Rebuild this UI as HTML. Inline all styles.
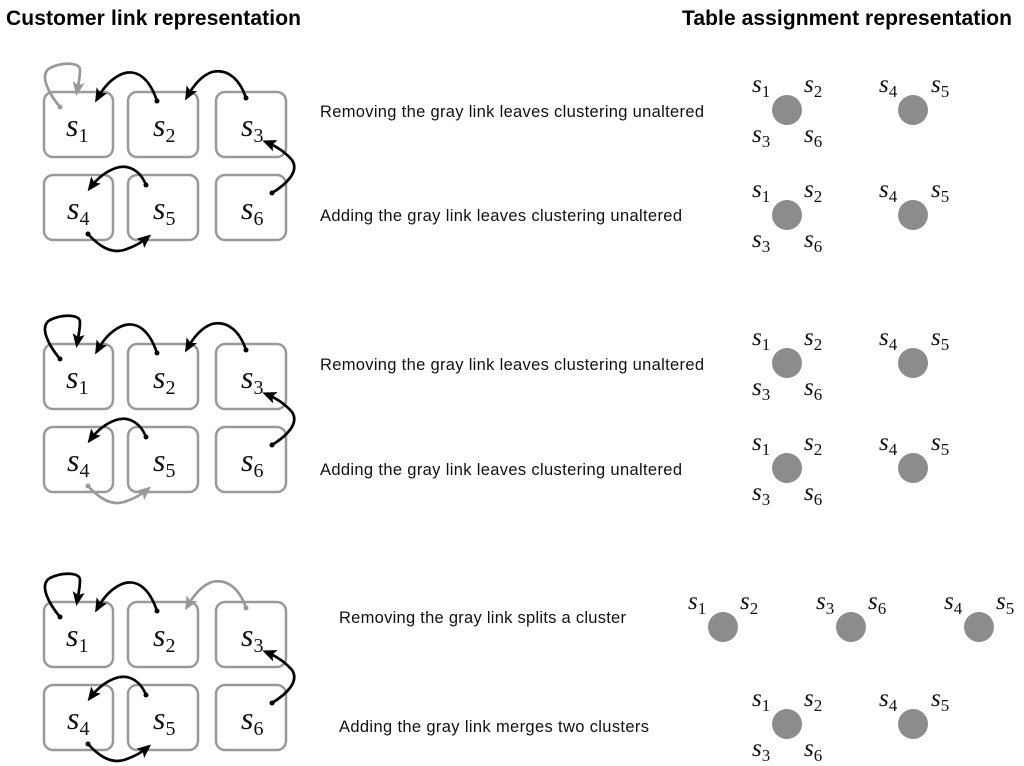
<!DOCTYPE html>
<html><head><meta charset="utf-8"><style>
html,body{margin:0;padding:0;background:#fff;}
svg{display:block;}
.h{font-family:"Liberation Sans",sans-serif;font-weight:bold;font-size:21px;fill:#000;}
.t{font-family:"Liberation Sans",sans-serif;font-size:16.5px;fill:#111;}
.s{font-family:"Liberation Serif",serif;font-style:italic;font-size:32px;fill:#111;}
.sub{font-style:normal;font-size:20px;}
.c{font-family:"Liberation Serif",serif;font-style:italic;font-size:25px;fill:#111;}
.cs{font-style:normal;font-size:17px;}
.box{fill:#fff;stroke:#999;stroke-width:2.5;}
.k{fill:none;stroke:#000;stroke-width:2.7;}
.g{fill:none;stroke:#999;stroke-width:2.7;}
</style></head><body>
<svg width="1024" height="766" viewBox="0 0 1024 766" xmlns="http://www.w3.org/2000/svg">
<defs>
<marker id="ak" markerWidth="14" markerHeight="12" refX="10" refY="6" orient="auto" markerUnits="userSpaceOnUse"><path d="M0,0 L14,6 L0,12 L3,6 z" fill="#000"/></marker>
<marker id="ag" markerWidth="14" markerHeight="12" refX="10" refY="6" orient="auto" markerUnits="userSpaceOnUse"><path d="M0,0 L14,6 L0,12 L3,6 z" fill="#999"/></marker>
<g id="boxes">
<rect class="box" x="44" y="92" width="69" height="65" rx="9"/>
<rect class="box" x="128" y="92" width="70" height="65" rx="9"/>
<rect class="box" x="216" y="92" width="70" height="65" rx="9"/>
<rect class="box" x="44" y="175" width="69" height="65" rx="9"/>
<rect class="box" x="128" y="175" width="70" height="65" rx="9"/>
<rect class="box" x="216" y="175" width="70" height="65" rx="9"/>
<text class="s" x="66" y="136">s<tspan class="sub" dy="6">1</tspan></text>
<text class="s" x="153" y="136">s<tspan class="sub" dy="6">2</tspan></text>
<text class="s" x="241" y="136">s<tspan class="sub" dy="6">3</tspan></text>
<text class="s" x="67" y="219">s<tspan class="sub" dy="6">4</tspan></text>
<text class="s" x="153" y="219">s<tspan class="sub" dy="6">5</tspan></text>
<text class="s" x="241" y="219">s<tspan class="sub" dy="6">6</tspan></text>
</g>
<g id="common">
<path class="k" d="M157,101 C150,80 138,68 122,74 C110,79 102,90 97,99" marker-end="url(#ak)"/><circle cx="157" cy="101" r="2.5"/>
<path class="k" d="M272,193 C285,185 300,172 292,160 C285,152 276,146 266,142" marker-end="url(#ak)"/><circle cx="272" cy="193" r="2.5"/>
<path class="k" d="M146,185 C140,170 128,164 116,168 C104,172 96,180 90,188" marker-end="url(#ak)"/><circle cx="146" cy="185" r="2.5"/>
</g>
<g id="circ">
<circle cx="787" cy="110" r="15" fill="#8c8c8c"/>
<circle cx="913" cy="110" r="15" fill="#8c8c8c"/>
<text class="c" x="752" y="92">s<tspan class="cs" dy="5">1</tspan></text>
<text class="c" x="804" y="92">s<tspan class="cs" dy="5">2</tspan></text>
<text class="c" x="752" y="142">s<tspan class="cs" dy="5">3</tspan></text>
<text class="c" x="804" y="142">s<tspan class="cs" dy="5">6</tspan></text>
<text class="c" x="879" y="92">s<tspan class="cs" dy="5">4</tspan></text>
<text class="c" x="931" y="92">s<tspan class="cs" dy="5">5</tspan></text>
</g>
</defs>

<text class="h" x="6" y="25" textLength="295">Customer link representation</text>
<text class="h" x="682" y="25" textLength="330">Table assignment representation</text>

<!-- Group 1 -->
<use href="#boxes"/>
<use href="#common"/>
<path class="g" d="M60,107 C50,95 38,75 50,68 C62,62 80,62 80,70 C80,78 78,86 77,92" marker-end="url(#ag)"/><circle cx="60" cy="107" r="2.5" fill="#999"/>
<path class="k" d="M246,98 C240,80 228,68 212,72 C200,76 192,88 187,97" marker-end="url(#ak)"/><circle cx="246" cy="98" r="2.5"/>
<path class="k" d="M88,234 C98,245 110,254 124,250 C136,246 142,242 148,237" marker-end="url(#ak)"/><circle cx="88" cy="234" r="2.5"/>
<text class="t" x="320" y="117" textLength="384">Removing the gray link leaves clustering unaltered</text>
<text class="t" x="320" y="221" textLength="362">Adding the gray link leaves clustering unaltered</text>
<use href="#circ"/>
<use href="#circ" y="105"/>

<!-- Group 2 -->
<g transform="translate(0,252)">
<use href="#boxes"/>
<use href="#common"/>
<path class="k" d="M60,107 C50,95 38,75 50,68 C62,62 80,62 80,70 C80,78 78,86 77,92" marker-end="url(#ak)"/><circle cx="60" cy="107" r="2.5"/>
<path class="k" d="M246,98 C240,80 228,68 212,72 C200,76 192,88 187,97" marker-end="url(#ak)"/><circle cx="246" cy="98" r="2.5"/>
<path class="g" d="M88,234 C98,245 110,254 124,250 C136,246 142,242 148,237" marker-end="url(#ag)"/><circle cx="88" cy="234" r="2.5" fill="#999"/>
</g>
<text class="t" x="320" y="370" textLength="384">Removing the gray link leaves clustering unaltered</text>
<text class="t" x="320" y="475" textLength="362">Adding the gray link leaves clustering unaltered</text>
<use href="#circ" y="253"/>
<use href="#circ" y="358"/>

<!-- Group 3 -->
<g transform="translate(0,510)">
<use href="#boxes"/>
<use href="#common"/>
<path class="k" d="M60,107 C50,95 38,75 50,68 C62,62 80,62 80,70 C80,78 78,86 77,92" marker-end="url(#ak)"/><circle cx="60" cy="107" r="2.5"/>
<path class="g" d="M246,98 C240,80 228,68 212,72 C200,76 192,88 187,97" marker-end="url(#ag)"/><circle cx="246" cy="98" r="2.5" fill="#999"/>
<path class="k" d="M88,234 C98,245 110,254 124,250 C136,246 142,242 148,237" marker-end="url(#ak)"/><circle cx="88" cy="234" r="2.5"/>
</g>
<text class="t" x="339" y="623" textLength="287">Removing the gray link splits a cluster</text>
<text class="t" x="339" y="732" textLength="310">Adding the gray link merges two clusters</text>

<circle cx="723" cy="627" r="15" fill="#8c8c8c"/>
<circle cx="851" cy="627" r="15" fill="#8c8c8c"/>
<circle cx="979" cy="627" r="15" fill="#8c8c8c"/>
<text class="c" x="688" y="609">s<tspan class="cs" dy="5">1</tspan></text>
<text class="c" x="740" y="609">s<tspan class="cs" dy="5">2</tspan></text>
<text class="c" x="816" y="609">s<tspan class="cs" dy="5">3</tspan></text>
<text class="c" x="868" y="609">s<tspan class="cs" dy="5">6</tspan></text>
<text class="c" x="944" y="609">s<tspan class="cs" dy="5">4</tspan></text>
<text class="c" x="996" y="609">s<tspan class="cs" dy="5">5</tspan></text>
<use href="#circ" y="614"/>
</svg>
</body></html>
